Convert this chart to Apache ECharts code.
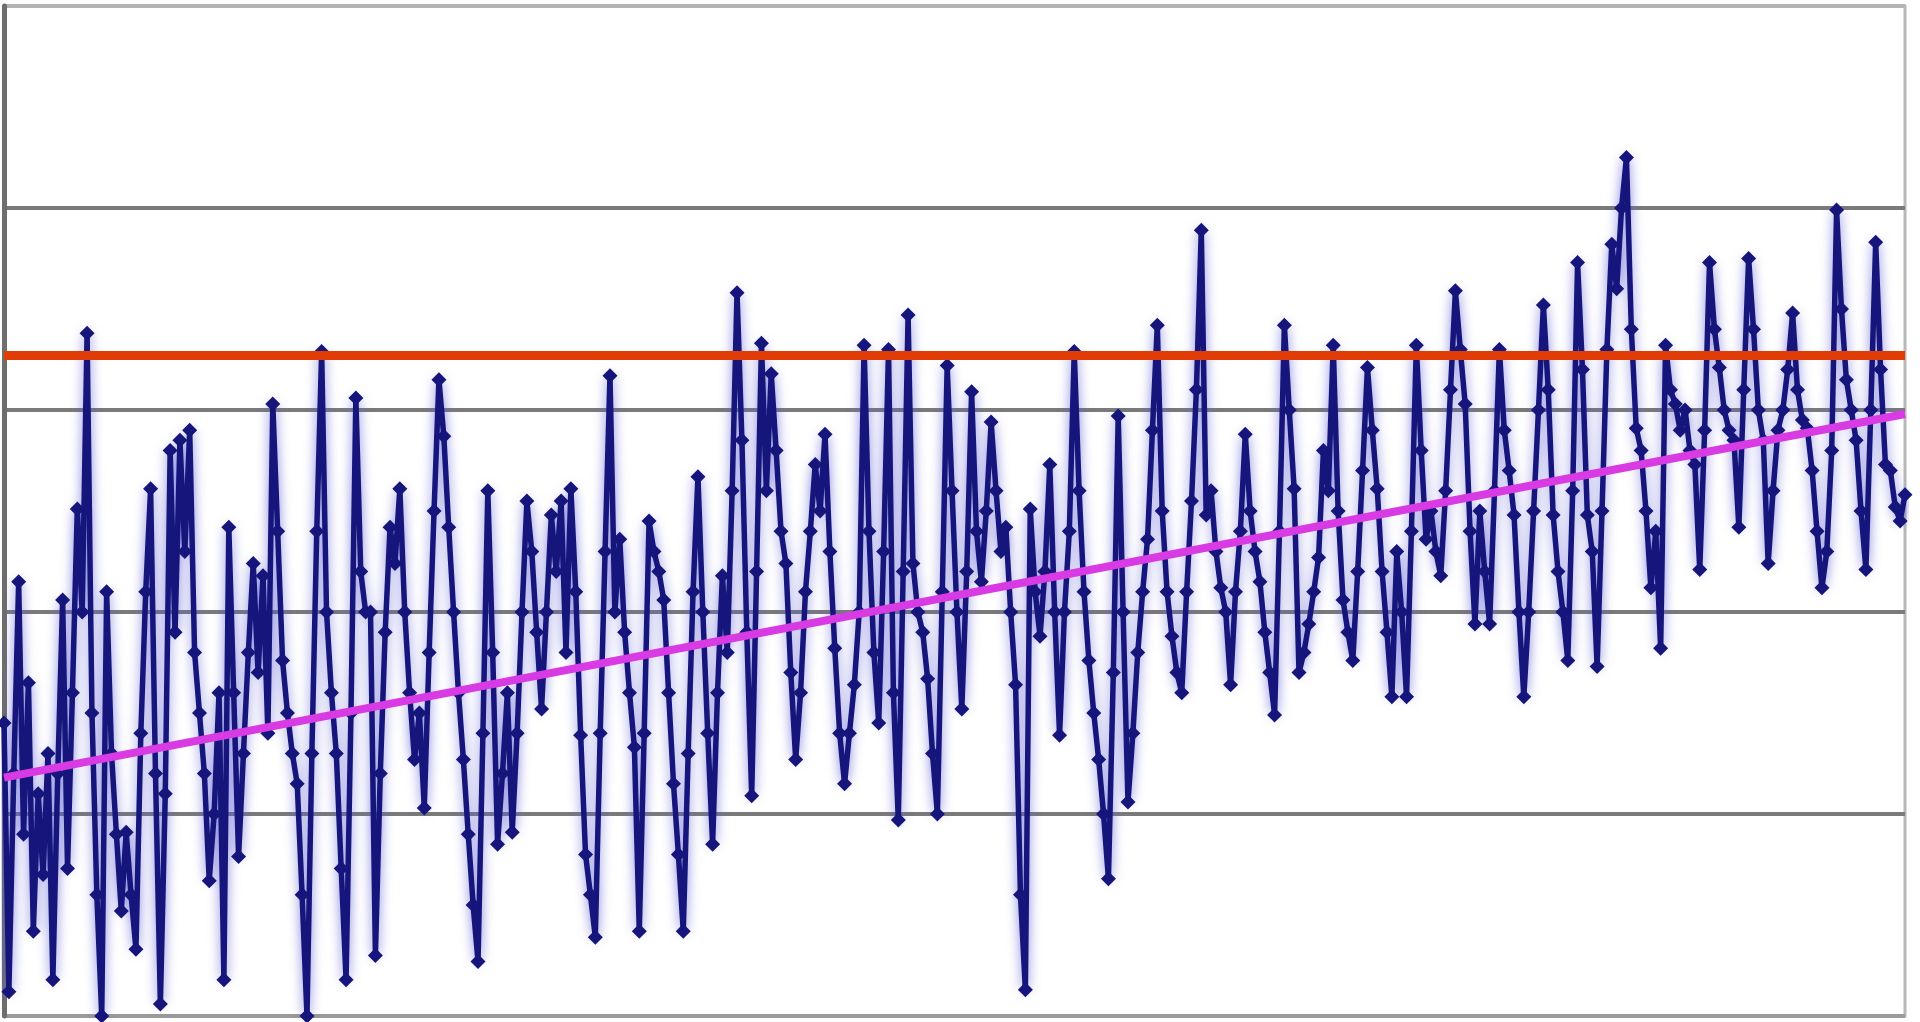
<!DOCTYPE html>
<html>
<head>
<meta charset="utf-8">
<script src="https://cdn.jsdelivr.net/npm/echarts@6/dist/echarts.min.js"></script>
<style>
  html, body { margin:0; padding:0; background:#fff; }
  #chart { width:1920px; height:1022px; }
</style>
</head>
<body>
<div id="chart"></div>
<script>
// === Datos (valores aproximados, 25 puntos por tramo) ===
const VALUES = [
  1.45, 0.12, 1.20, 2.15, 0.90, 1.65, 0.42, 1.10, 0.70, 1.30, 0.18, 1.20, 2.06, 0.73, 1.60, 2.51, 2.00, 3.38, 1.50, 0.60, 0.00, 2.10, 1.30, 0.90, 0.52,
  0.91, 0.60, 0.33, 1.40, 2.10, 2.61, 1.20, 0.06, 1.10, 2.80, 1.90, 2.85, 2.30, 2.90, 1.80, 1.50, 1.20, 0.67, 1.00, 1.60, 0.18, 2.42, 1.60, 0.79, 1.30,
  1.80, 2.24, 1.70, 2.18, 1.40, 3.03, 2.40, 1.76, 1.50, 1.30, 1.15, 0.60, 0.00, 1.30, 2.40, 3.29, 2.00, 1.60, 1.30, 0.73, 0.18, 1.50, 3.06, 2.20, 2.00,
  2.00, 0.30, 1.20, 1.90, 2.42, 2.24, 2.61, 2.00, 1.60, 1.27, 1.50, 1.03, 1.80, 2.50, 3.15, 2.87, 2.42, 2.00, 1.60, 1.27, 0.90, 0.55, 0.27, 1.40, 2.60,
  1.80, 0.85, 1.20, 1.60, 0.91, 1.40, 2.00, 2.55, 2.30, 1.90, 1.52, 2.00, 2.48, 2.20, 2.55, 1.80, 2.61, 2.10, 1.39, 0.80, 0.60, 0.39, 1.40, 2.30, 3.17,
  2.00, 2.36, 1.90, 1.60, 1.33, 0.42, 1.40, 2.45, 2.30, 2.20, 2.06, 1.60, 1.15, 0.80, 0.42, 1.30, 2.10, 2.67, 2.00, 1.40, 0.85, 1.60, 2.18, 1.80, 2.60,
  3.58, 2.85, 1.90, 1.09, 2.20, 3.33, 2.60, 3.18, 2.80, 2.40, 2.24, 1.70, 1.27, 1.60, 2.10, 2.40, 2.73, 2.50, 2.88, 2.30, 1.82, 1.40, 1.15, 1.40, 1.64,
  2.00, 3.32, 2.40, 1.80, 1.45, 2.30, 3.30, 1.60, 0.97, 2.20, 3.47, 2.24, 2.00, 1.90, 1.67, 1.30, 1.00, 2.10, 3.22, 2.60, 2.00, 1.52, 2.20, 3.09, 2.40,
  2.15, 2.50, 2.94, 2.60, 2.30, 2.42, 2.00, 1.64, 0.60, 0.13, 2.51, 2.10, 1.88, 2.20, 2.73, 2.00, 1.39, 2.00, 2.40, 3.29, 2.60, 2.10, 1.76, 1.50, 1.27,
  1.00, 0.68, 1.70, 2.97, 2.00, 1.06, 1.40, 1.80, 2.10, 2.36, 2.90, 3.42, 2.50, 2.10, 1.88, 1.70, 1.60, 2.10, 2.55, 3.10, 3.89, 2.48, 2.60, 2.30, 2.12,
  2.00, 1.64, 2.10, 2.40, 2.88, 2.50, 2.30, 2.15, 1.90, 1.70, 1.49, 2.40, 3.42, 3.00, 2.61, 1.70, 1.80, 1.94, 2.10, 2.27, 2.80, 2.60, 3.32, 2.50, 2.06,
  1.90, 1.76, 2.20, 2.70, 3.21, 2.90, 2.61, 2.20, 1.90, 1.58, 2.30, 2.00, 1.58, 2.40, 3.32, 2.80, 2.36, 2.50, 2.30, 2.18, 2.60, 3.10, 3.59, 3.30, 3.03,
  2.40, 1.94, 2.50, 2.20, 1.94, 2.60, 3.30, 2.90, 2.70, 2.48, 2.00, 1.58, 2.00, 2.50, 3.00, 3.52, 3.10, 2.48, 2.20, 2.00, 1.76, 2.60, 3.73, 3.20, 2.48,
  2.30, 1.73, 2.50, 3.30, 3.82, 3.60, 4.00, 4.25, 3.40, 2.91, 2.80, 2.50, 2.12, 2.40, 1.82, 3.32, 3.10, 3.03, 2.90, 3.00, 2.80, 2.73, 2.21, 2.90, 3.73,
  3.40, 3.21, 3.00, 2.90, 2.85, 2.42, 3.10, 3.75, 3.40, 3.00, 2.85, 2.24, 2.60, 2.90, 3.00, 3.20, 3.48, 3.10, 2.95, 2.91, 2.70, 2.40, 2.12, 2.30, 2.80,
  3.99, 3.50, 3.15, 3.00, 2.85, 2.50, 2.21, 3.00, 3.83, 3.20, 2.73, 2.70, 2.52, 2.45, 2.58
];
const CATEGORIES = VALUES.map((_, i) => i + 1);
const TREND_START = 1.18, TREND_END = 2.98;
const THRESHOLD = 3.27;
const Y_MIN = 0, Y_MAX = 5, Y_STEP = 1;

// === Paleta ===
const navy = '#15157c', magenta = '#d83ae4', red = '#e23c06', gridGray = '#7a7a7a';

const chart = echarts.init(document.getElementById('chart'));
chart.setOption({
  animation: false,
  backgroundColor: '#fff',
  grid: { left: 4, right: 15, top: 6, bottom: 6, show: true, borderColor: '#b8b8b8', borderWidth: 3 },
  xAxis: {
    type: 'category', data: CATEGORIES, boundaryGap: false,
    axisLine: { show: false }, axisTick: { show: false }, axisLabel: { show: false }, splitLine: { show: false }
  },
  yAxis: {
    type: 'value', min: Y_MIN, max: Y_MAX, interval: Y_STEP,
    axisLine: { show: true, lineStyle: { color: '#6e6e6e', width: 5 } },
    axisTick: { show: false }, axisLabel: { show: false },
    splitLine: { lineStyle: { color: ['#9a9a9a', gridGray, gridGray, gridGray, gridGray, '#b4b4b4'], width: 4 } }
  },
  series: [
    {
      type: 'line', data: VALUES, symbol: 'diamond', symbolSize: 15, showAllSymbol: true, z: 3,
      itemStyle: { color: navy },
      lineStyle: { color: navy, width: 5.5, shadowColor: 'rgba(90,90,215,0.75)', shadowBlur: 12 }
    },
    {
      type: 'line', data: [[0, TREND_START], [VALUES.length - 1, TREND_END]], symbol: 'none', z: 4,
      lineStyle: { color: magenta, width: 8 }
    },
    {
      type: 'line', data: [], z: 5,
      markLine: {
        silent: true, symbol: 'none', label: { show: false },
        lineStyle: { color: red, width: 9, type: 'solid' },
        data: [{ yAxis: THRESHOLD }]
      }
    }
  ]
});
</script>
</body>
</html>
